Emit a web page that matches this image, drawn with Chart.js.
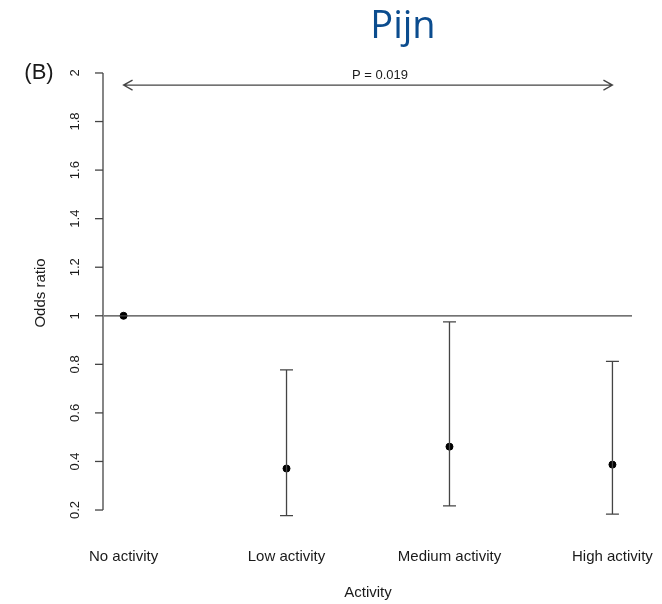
<!DOCTYPE html>
<html><head><meta charset="utf-8">
<script src="https://cdn.jsdelivr.net/npm/chart.js@4/dist/chart.umd.min.js"></script>
<style>html,body{margin:0;padding:0;background:#fff;}#wrap{width:662px;height:604px;position:relative;}</style>
</head><body><div id="wrap"><canvas id="c" width="662" height="604"></canvas></div>
<script>
const categories = ["No activity", "Low activity", "Medium activity", "High activity"];
const oddsRatio = [1.0, 0.371, 0.461, 0.387];
const ciLower = [null, 0.177, 0.217, 0.183];
const ciUpper = [null, 0.777, 0.975, 0.812];
const yTicks = [0.2, 0.4, 0.6, 0.8, 1, 1.2, 1.4, 1.6, 1.8, 2];
const yTickLabels = ["0.2", "0.4", "0.6", "0.8", "1", "1.2", "1.4", "1.6", "1.8", "2"];
const refValue = 1;
const pText = "P = 0.019";
const pArrowY = 1.95;
const titleText = "Pijn";
const panelLabel = "(B)";
const yTitle = "Odds ratio";
const xTitle = "Activity";

const AX = '#444';
const FONT = '"Liberation Sans", Arial, sans-serif';

const overlay = {
  id: 'overlay',
  afterDatasetsDraw(chart) {
    const ctx = chart.ctx;
    const xs = chart.scales.x, ys = chart.scales.y;
    ctx.save();
    ctx.strokeStyle = AX; ctx.lineWidth = 1.3;
    const yr = ys.getPixelForValue(refValue);
    ctx.beginPath(); ctx.moveTo(chart.chartArea.left, yr); ctx.lineTo(chart.chartArea.right, yr); ctx.stroke();
    for (let i = 0; i < categories.length; i++) {
      if (ciLower[i] == null) continue;
      const x = xs.getPixelForValue(i + 1);
      const y1 = ys.getPixelForValue(ciLower[i]), y2 = ys.getPixelForValue(ciUpper[i]);
      ctx.beginPath();
      ctx.moveTo(x, y1); ctx.lineTo(x, y2);
      ctx.moveTo(x - 6.5, y1); ctx.lineTo(x + 6.5, y1);
      ctx.moveTo(x - 6.5, y2); ctx.lineTo(x + 6.5, y2);
      ctx.stroke();
    }
    const yTop = ys.getPixelForValue(yTicks[yTicks.length - 1]);
    const yBot = ys.getPixelForValue(yTicks[0]);
    const ax = chart.chartArea.left - 1;
    ctx.beginPath(); ctx.moveTo(ax, yTop); ctx.lineTo(ax, yBot); ctx.stroke();
    ctx.fillStyle = '#1a1a1a';
    ctx.font = '13px ' + FONT;
    ctx.textAlign = 'center'; ctx.textBaseline = 'middle';
    yTicks.forEach((v, k) => {
      const py = ys.getPixelForValue(v);
      ctx.beginPath(); ctx.moveTo(ax - 8, py); ctx.lineTo(ax, py); ctx.stroke();
      ctx.save(); ctx.translate(75.5, py); ctx.rotate(-Math.PI / 2);
      ctx.fillText(yTickLabels[k], 0, 0); ctx.restore();
    });
    ctx.font = '15px ' + FONT;
    categories.forEach((c, i) => {
      ctx.fillText(c, xs.getPixelForValue(i + 1), 556.5);
    });
    ctx.fillText(xTitle, (chart.chartArea.left + chart.chartArea.right) / 2, 593);
    ctx.save(); ctx.translate(41, 293); ctx.rotate(-Math.PI / 2);
    ctx.fillText(yTitle, 0, 0); ctx.restore();
    const ay = ys.getPixelForValue(pArrowY);
    const xa = xs.getPixelForValue(1), xb = xs.getPixelForValue(4);
    ctx.beginPath();
    ctx.moveTo(xa, ay); ctx.lineTo(xb, ay);
    ctx.moveTo(xa + 9, ay - 5); ctx.lineTo(xa, ay); ctx.lineTo(xa + 9, ay + 5);
    ctx.moveTo(xb - 9, ay - 5); ctx.lineTo(xb, ay); ctx.lineTo(xb - 9, ay + 5);
    ctx.stroke();
    ctx.font = '13px ' + FONT;
    ctx.fillText(pText, (xa + xb) / 2 + 12, ay - 10);
    ctx.font = '22px ' + FONT;
    ctx.fillText(panelLabel, 39, 73);
    ctx.font = '38px "Open Sans", "Noto Sans", sans-serif';
    ctx.fillStyle = '#0b4c8e';
    ctx.textBaseline = 'alphabetic';
    ctx.fillText(titleText, 403, 38);
    ctx.restore();
  }
};

new Chart(document.getElementById('c'), {
  type: 'scatter',
  data: {
    datasets: [{
      data: oddsRatio.map((v, i) => ({ x: i + 1, y: v })),
      backgroundColor: '#000', borderColor: '#000',
      pointRadius: 3.5, pointHoverRadius: 3.5
    }]
  },
  options: {
    responsive: false, animation: false,
    layout: { padding: { left: 104, right: 30, top: 55.5, bottom: 76.5 } },
    plugins: { legend: { display: false }, tooltip: { enabled: false }, title: { display: false } },
    scales: {
      x: { type: 'linear', min: 0.88, max: 4.12, display: false },
      y: { type: 'linear', min: 0.128, max: 2.072, display: false }
    }
  },
  plugins: [overlay]
});
</script></body></html>
